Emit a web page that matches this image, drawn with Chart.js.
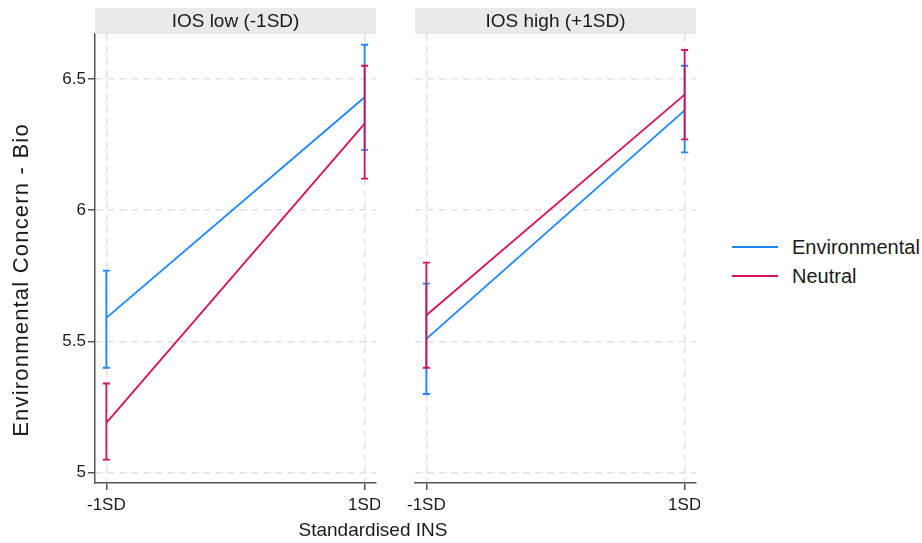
<!DOCTYPE html>
<html>
<head>
<meta charset="utf-8">
<script src="https://cdn.jsdelivr.net/npm/chart.js@4.4.1/dist/chart.umd.min.js"></script>
<style>
  html, body { margin:0; padding:0; background:#fff; }
  #wrap { position:relative; width:922px; height:543px; background:#fff; overflow:hidden;
          font-family:"Liberation Sans", Arial, sans-serif; color:#1a1a1a; }
  canvas { position:absolute; top:0; }
  .lg-line { position:absolute; height:2px; width:46px; left:732px; }
  .lg-text { position:absolute; left:792px; font-size:20px; line-height:20px; }
  #xtitle { position:absolute; left:173px; width:400px; top:520px; text-align:center; font-size:19px; line-height:19px; }
  #ytitle { position:absolute; left:-179.5px; top:269px; width:400px; height:22px; text-align:center;
            font-size:22px; line-height:22px; letter-spacing:1.2px; transform:rotate(-90deg); transform-origin:50% 50%; }
</style>
</head>
<body>
<div id="wrap">
  <canvas id="c1" width="380" height="543" style="left:0px"></canvas>
  <canvas id="c2" width="320" height="543" style="left:380px"></canvas>
  <div id="ytitle"></div>
  <div id="xtitle"></div>
  <div class="lg-line" id="lgl0" style="top:246px"></div>
  <div class="lg-text" id="lgt0" style="top:237px"></div>
  <div class="lg-line" id="lgl1" style="top:275px"></div>
  <div class="lg-text" id="lgt1" style="top:266px"></div>
</div>
<script>
// ---- data ----
const xTickValues = [-1, 1];
const xTickLabels = ['-1SD', '1SD'];
const yTickValues = [5, 5.5, 6, 6.5];
const panelTitles = ['IOS low (-1SD)', 'IOS high (+1SD)'];
const seriesNames = ['Environmental', 'Neutral'];
const xAxisTitle = 'Standardised INS';
const yAxisTitle = 'Environmental Concern - Bio';

// IOS low panel
const envLowMean = [5.59, 6.43];
const envLowLo   = [5.40, 6.23];
const envLowHi   = [5.77, 6.63];
const neuLowMean = [5.19, 6.33];
const neuLowLo   = [5.05, 6.12];
const neuLowHi   = [5.34, 6.55];
// IOS high panel
const envHighMean = [5.51, 6.38];
const envHighLo   = [5.30, 6.22];
const envHighHi   = [5.72, 6.55];
const neuHighMean = [5.60, 6.44];
const neuHighLo   = [5.40, 6.27];
const neuHighHi   = [5.80, 6.61];

// ---- styles ----
const colors = ['#1a85ff', '#d41159'];
const FONT = '"Liberation Sans", Arial, sans-serif';
const AXIS = '#555555';
const GRID = '#e2e2e2';

document.getElementById('xtitle').textContent = xAxisTitle;
document.getElementById('ytitle').textContent = yAxisTitle;
seriesNames.forEach((n, i) => {
  document.getElementById('lgt' + i).textContent = n;
  document.getElementById('lgl' + i).style.background = colors[i];
});

function pts(means) { return means.map((m, i) => ({ x: xTickValues[i], y: m })); }

const errorBars = {
  id: 'errorBars',
  afterDatasetDraw(chart, args) {
    const ds = chart.data.datasets[args.index];
    const xs = chart.scales.x, ys = chart.scales.y;
    const ctx = chart.ctx;
    ctx.save();
    ctx.strokeStyle = ds.borderColor;
    ctx.lineWidth = 1.8;
    ds.lo.forEach((lo, i) => {
      const px = xs.getPixelForValue(xTickValues[i]);
      const y1 = ys.getPixelForValue(lo), y2 = ys.getPixelForValue(ds.hi[i]);
      ctx.beginPath();
      ctx.moveTo(px, y1); ctx.lineTo(px, y2);
      ctx.moveTo(px - 3.5, y1); ctx.lineTo(px + 3.5, y1);
      ctx.moveTo(px - 3.5, y2); ctx.lineTo(px + 3.5, y2);
      ctx.stroke();
    });
    ctx.restore();
  }
};

const header = {
  id: 'header',
  afterDraw(chart, args, opts) {
    const ca = chart.chartArea, ctx = chart.ctx;
    ctx.save();
    ctx.fillStyle = '#eaeaea';
    ctx.fillRect(ca.left, 8, ca.right - ca.left, 26);
    ctx.fillStyle = '#1a1a1a';
    ctx.font = '19px ' + FONT;
    ctx.textAlign = 'center';
    ctx.textBaseline = 'middle';
    ctx.fillText(opts.text, (ca.left + ca.right) / 2, 22);
    ctx.restore();
  }
};

function noPad(s) { s.paddingLeft = 0; s.paddingRight = 0; s.paddingTop = 0; s.paddingBottom = 0; }

function makeChart(id, title, env, neu, isLeft) {
  const datasets = [
    { label: seriesNames[0], data: pts(env[0]), lo: env[1], hi: env[2], borderColor: colors[0], order: 1 },
    { label: seriesNames[1], data: pts(neu[0]), lo: neu[1], hi: neu[2], borderColor: colors[1], order: 0 }
  ].map(d => Object.assign(d, { borderWidth: 1.8, pointRadius: 0, fill: false, tension: 0 }));

  return new Chart(document.getElementById(id), {
    type: 'line',
    data: { datasets },
    plugins: [errorBars, header],
    options: {
      responsive: false,
      animation: false,
      layout: { padding: { left: isLeft ? 0 : 35, top: 34, right: 4, bottom: 0 } },
      plugins: { legend: { display: false }, tooltip: { enabled: false }, header: { text: title } },
      scales: {
        x: {
          type: 'linear', min: -1.088, max: 1.088,
          afterBuildTicks: s => { s.ticks = xTickValues.map(v => ({ value: v })); },
          afterFit: s => { s.height = 60; noPad(s); },
          ticks: {
            callback: (v) => xTickLabels[xTickValues.indexOf(v)],
            font: { family: FONT, size: 17 }, color: '#1a1a1a', padding: 5, maxRotation: 0
          },
          grid: { color: GRID, lineWidth: 1.5, tickLength: 7, tickColor: AXIS, tickWidth: 1.5, tickBorderDash: [] },
          border: { display: true, color: AXIS, width: 1.5, dash: [7, 5] }
        },
        y: {
          type: 'linear', min: 4.961, max: 6.671,
          afterBuildTicks: s => { s.ticks = yTickValues.map(v => ({ value: v })); },
          afterFit: s => { s.width = isLeft ? 95 : 0; noPad(s); },
          ticks: {
            display: isLeft,
            callback: (v) => String(v),
            font: { family: FONT, size: 17 }, color: '#1a1a1a', padding: 2
          },
          grid: { color: GRID, lineWidth: 1.5, drawTicks: isLeft, tickLength: 7, tickColor: AXIS, tickWidth: 1.5, tickBorderDash: [] },
          border: { display: isLeft, color: AXIS, width: 1.5, dash: [7, 5] }
        }
      }
    }
  });
}

makeChart('c1', panelTitles[0], [envLowMean, envLowLo, envLowHi], [neuLowMean, neuLowLo, neuLowHi], true);
makeChart('c2', panelTitles[1], [envHighMean, envHighLo, envHighHi], [neuHighMean, neuHighLo, neuHighHi], false);
</script>
</body>
</html>
